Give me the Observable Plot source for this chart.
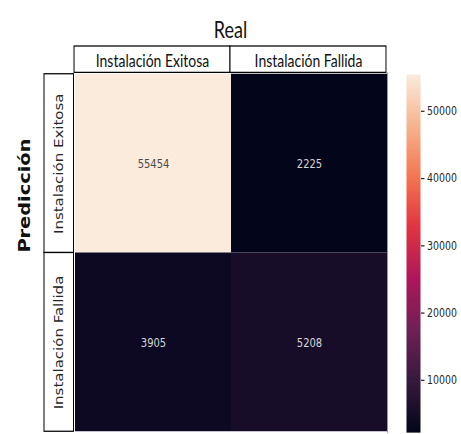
<!DOCTYPE html>
<html>
<head>
<meta charset="utf-8">
<script src="https://cdn.jsdelivr.net/npm/d3@7"></script>
<script src="https://cdn.jsdelivr.net/npm/@observablehq/plot@0.6"></script>
<style>
  html { overflow: hidden; }
  body { margin: 0; padding: 0; background: #fff; width: 461px; height: 434px; }
  #chart {
    position: relative;
    width: 461px;
    height: 347.2px;
    transform: scaleY(1.25);
    transform-origin: 0 0;
  }
  #chart > svg { position: absolute; overflow: visible; }
</style>
</head>
<body>
<div id="chart"></div>
<script>
// Confusion matrix: actual class (columns) vs predicted class (rows)
const realLabels = ["Instalación Exitosa", "Instalación Fallida"];
const predLabels = ["Instalación Exitosa", "Instalación Fallida"];
const predExitosa = [55454, 2225];   // predicted "Exitosa", by actual class
const predFallida = [3905, 5208];    // predicted "Fallida", by actual class
const colorbarTicks = [10000, 20000, 30000, 40000, 50000];

// "rocket" colour map key stops
const rocketStops = ["#03051a", "#35193e", "#701f57", "#ad1759", "#e13342", "#f37651", "#f6b48f", "#faebdd"];

const rowsByPred = [predExitosa, predFallida];
const cells = predLabels.flatMap((p, i) =>
  realLabels.map((r, j) => ({pred: p, real: r, value: rowsByPred[i][j]}))
);
const lo = d3.min(cells, d => d.value);
const hi = d3.max(cells, d => d.value);
const mid = (lo + hi) / 2;

const color = {
  type: "linear",
  domain: [lo, hi],
  interpolate: d3.piecewise(d3.interpolateRgb, rocketStops)
};

const chart = document.getElementById("chart");
const place = (svg, left, top) => {
  svg.style.left = left + "px";
  svg.style.top = top + "px";
  chart.appendChild(svg);
};

// Heatmap cells with value annotations
const heat = Plot.plot({
  width: 313, height: 288.8,
  marginTop: 0, marginRight: 0, marginLeft: 0, marginBottom: 1.6,
  x: {domain: realLabels, padding: 0, axis: null},
  y: {domain: predLabels, padding: 0, axis: null},
  color,
  marks: [
    Plot.cell(cells, {x: "real", y: "pred", fill: "value"}),
    Plot.text(cells, {filter: d => d.value > mid, x: "real", y: "pred", text: d => String(d.value),
      fill: "#4a4a4a", fontFamily: "DejaVu Sans", fontSize: 10}),
    Plot.text(cells, {filter: d => d.value <= mid, x: "real", y: "pred", text: d => String(d.value),
      fill: "#d6d6d6", fontFamily: "DejaVu Sans", fontSize: 10}),
    Plot.frame({anchor: "right", stroke: "#9a9a9a"})
  ]
});
place(heat, 74, 58.4);

// Column header boxes and title
const header = Plot.plot({
  width: 461, height: 58.4,
  marginTop: 36.8, marginBottom: 0, marginLeft: 74, marginRight: 75,
  x: {domain: realLabels, padding: 0, axis: null},
  marks: [
    Plot.cell(realLabels, {x: d => d, fill: "white", stroke: "black", insetBottom: 0.5}),
    Plot.text(realLabels, {x: d => d, text: d => d, fontFamily: "Lato", fontSize: 14, fill: "#111", dy: 1}),
    Plot.text(["Real"], {frameAnchor: "top", text: d => d, fontFamily: "Lato", fontSize: 18, fill: "#111", dy: -20})
  ]
});
place(header, 0, 0);

// Row header boxes and axis title
const side = Plot.plot({
  width: 74, height: 288.8,
  marginTop: 0, marginBottom: 1.6, marginLeft: 44, marginRight: 0,
  y: {domain: predLabels, padding: 0, axis: null},
  marks: [
    Plot.cell(predLabels, {y: d => d, fill: "white", stroke: "black", insetRight: 0.5}),
    Plot.text(predLabels, {y: d => d, text: d => d, rotate: -90, fontFamily: "DejaVu Sans", fontSize: 12, fill: "#262626"}),
    Plot.text(["Predicción"], {frameAnchor: "left", text: d => d, rotate: -90, dx: -19,
      fontFamily: "DejaVu Sans", fontWeight: "bold", fontSize: 15.5, fill: "#111"})
  ]
});
place(side, 0, 58.4);

// Colour bar
const bar = Plot.plot({
  width: 74, height: 347.2,
  marginTop: 59.2, marginBottom: 1.6, marginLeft: 19, marginRight: 41,
  x: {domain: [0, 1], axis: null},
  y: {domain: [lo, hi], label: null},
  color,
  marks: [
    Plot.raster({fill: (x, y) => y, x1: 0, x2: 1, y1: lo, y2: hi, width: 1, height: 400}),
    Plot.axisY(colorbarTicks, {anchor: "right", tickSize: 3.5, tickPadding: 3, tickFormat: d => String(d),
      fontFamily: "DejaVu Sans", fontSize: 9.4, color: "#262626", label: null})
  ]
});
place(bar, 387, 0);
</script>
</body>
</html>
